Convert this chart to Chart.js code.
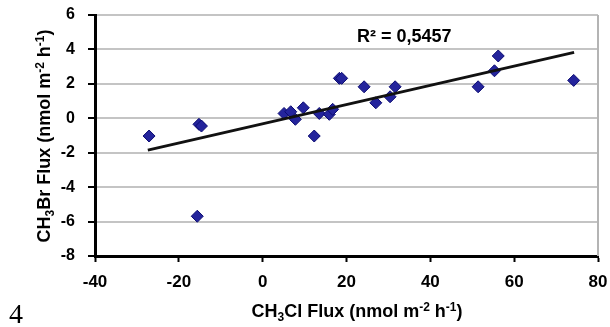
<!DOCTYPE html>
<html>
<head>
<meta charset="utf-8">
<script src="https://cdn.jsdelivr.net/npm/chart.js@4.4.1/dist/chart.umd.min.js"></script>
<style>
html,body{margin:0;padding:0;background:#fff;}
#wrap{width:610px;height:327px;position:relative;}
</style>
</head>
<body>
<div id="wrap"><canvas id="c" width="610" height="327"></canvas></div>
<script>
// Data
const fluxX = [-27.1, -15.2, -14.6, -15.6, 5.1, 6.7, 7.8, 9.7, 12.3, 13.5, 15.9, 16.7, 18.3, 18.85, 24.2, 27.0, 30.4, 31.6, 51.4, 55.3, 56.2, 74.2];
const fluxY = [-1.03, -0.35, -0.45, -5.69, 0.28, 0.38, -0.06, 0.61, -1.03, 0.28, 0.23, 0.52, 2.32, 2.32, 1.83, 0.90, 1.25, 1.83, 1.83, 2.76, 3.62, 2.2];
const trendX = [-27.4, 74.3];
const trendY = [-1.85, 3.83];
const xTicks = [-40, -20, 0, 20, 40, 60, 80];
const yTicks = [-8, -6, -4, -2, 0, 2, 4, 6];
const r2Label = 'R² = 0,5457';
const xTitleParts = [['CH',''],['3','sub'],['Cl Flux (nmol m',''],['-2','sup'],[' h',''],['-1','sup'],[')','']];
const yTitleParts = [['CH',''],['3','sub'],['Br Flux (nmol m',''],['-2','sup'],[' h',''],['-1','sup'],[')','']];
const pageNumber = '4';

const FAM = '"Liberation Sans", Arial, sans-serif';

function drawRich(ctx, parts, cx, baseline, size) {
  const small = Math.round(size * 0.66);
  let total = 0;
  parts.forEach(p => {
    ctx.font = 'bold ' + (p[1] ? small : size) + 'px ' + FAM;
    total += ctx.measureText(p[0]).width;
  });
  let x = cx - total / 2;
  ctx.textAlign = 'left';
  ctx.textBaseline = 'alphabetic';
  parts.forEach(p => {
    ctx.font = 'bold ' + (p[1] ? small : size) + 'px ' + FAM;
    let dy = 0;
    if (p[1] === 'sub') dy = size * 0.22;
    if (p[1] === 'sup') dy = -size * 0.36;
    ctx.fillText(p[0], x, baseline + dy);
    x += ctx.measureText(p[0]).width;
  });
}

function zeroPad(s) {
  s.paddingLeft = 0; s.paddingRight = 0; s.paddingTop = 0; s.paddingBottom = 0;
}

const decor = {
  id: 'decor',
  beforeDatasetsDraw(chart) {
    const ctx = chart.ctx, a = chart.chartArea;
    ctx.save();
    ctx.strokeStyle = '#b4b4b4';
    ctx.lineWidth = 2;
    ctx.beginPath();
    ctx.moveTo(a.right, a.top);
    ctx.lineTo(a.right, a.bottom);
    ctx.stroke();
    ctx.restore();
  },
  afterDraw(chart) {
    const ctx = chart.ctx;
    ctx.save();
    ctx.fillStyle = '#000';
    drawRich(ctx, xTitleParts, 357, 317, 18);
    ctx.save();
    ctx.translate(50, 136);
    ctx.rotate(-Math.PI / 2);
    drawRich(ctx, yTitleParts, 0, 0, 18);
    ctx.restore();
    ctx.font = 'bold 18px ' + FAM;
    ctx.textAlign = 'left';
    ctx.textBaseline = 'alphabetic';
    ctx.fillText(r2Label, 357, 42);
    ctx.font = '28px "Liberation Serif", "Times New Roman", serif';
    ctx.fillText(pageNumber, 9, 323);
    ctx.restore();
  }
};

new Chart(document.getElementById('c'), {
  type: 'scatter',
  data: {
    datasets: [
      {
        type: 'line',
        data: trendX.map((x, i) => ({x: x, y: trendY[i]})),
        borderColor: '#111',
        borderWidth: 3,
        pointRadius: 0,
        fill: false,
        tension: 0
      },
      {
        data: fluxX.map((x, i) => ({x: x, y: fluxY[i]})),
        pointStyle: 'rectRot',
        pointRadius: 6,
        backgroundColor: '#24249c',
        borderColor: '#0b0b72',
        borderWidth: 1
      }
    ]
  },
  options: {
    responsive: false,
    animation: false,
    events: [],
    layout: {padding: {top: 15, right: 12, left: 0, bottom: 0}},
    plugins: {legend: {display: false}, tooltip: {enabled: false}, title: {display: false}},
    scales: {
      x: {
        type: 'linear', min: -40, max: 80,
        afterBuildTicks(s) { s.ticks = xTicks.map(v => ({value: v})); },
        ticks: {color: '#000', font: {family: FAM, size: 17, weight: 'bold'}, padding: 10, maxRotation: 0, autoSkip: false},
        grid: {drawOnChartArea: false, drawTicks: true, tickLength: 6, tickColor: '#000', tickWidth: 2},
        border: {display: true, color: '#000', width: 3},
        afterFit(s) { s.height = 71; zeroPad(s); }
      },
      y: {
        type: 'linear', min: -8, max: 6,
        afterBuildTicks(s) { s.ticks = yTicks.map(v => ({value: v})); },
        ticks: {color: '#000', font: {family: FAM, size: 16, weight: 'bold'}, padding: 13, autoSkip: false},
        grid: {color: '#c4c4c4', lineWidth: 2, drawTicks: true, tickLength: 7, tickColor: '#000', tickWidth: 2},
        border: {display: true, color: '#000', width: 3},
        afterFit(s) { s.width = 95; zeroPad(s); }
      }
    }
  },
  plugins: [decor]
});
</script>
</body>
</html>
